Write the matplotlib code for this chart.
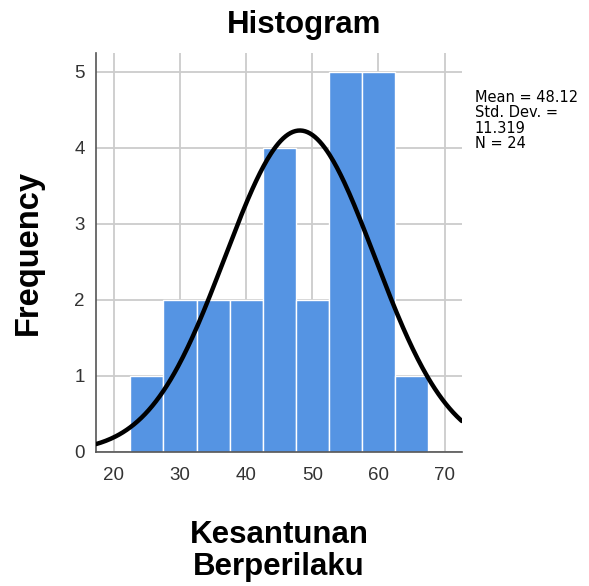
import numpy as np
import matplotlib
matplotlib.use("Agg")
from matplotlib import pyplot as plt

plt.rcParams['font.family'] = ['Liberation Sans', 'DejaVu Sans']

bin_edges = [22.5, 27.5, 32.5, 37.5, 42.5, 47.5, 52.5, 57.5, 62.5, 67.5]
freq = [1, 2, 2, 2, 4, 2, 5, 5, 1]
mean = 48.12
sd = 11.319
n = 24
xticks = [20, 30, 40, 50, 60, 70]
yticks = [0, 1, 2, 3, 4, 5]

fig = plt.figure(figsize=(5.89, 5.86), dpi=100)
ax = fig.add_axes([0.163, 0.2287, 0.621, 0.681])

width = bin_edges[1] - bin_edges[0]
ax.bar(bin_edges[:-1], freq, width=width, align='edge', color='#5594e3',
       edgecolor='white', linewidth=1, zorder=2)

xs = np.linspace(17.3, 72.6, 300)
ys = n * width * np.exp(-0.5 * ((xs - mean) / sd) ** 2) / (sd * np.sqrt(2 * np.pi))
ax.plot(xs, ys, color='black', linewidth=3.2, zorder=3, solid_capstyle='round')

ax.set_xlim(17.3, 72.6)
ax.set_ylim(0, 5.25)
ax.set_xticks(xticks)
ax.set_yticks(yticks)
ax.grid(True, color='#cccccc', linewidth=1.3, zorder=0)
ax.set_axisbelow(True)
for s in ['top', 'right']:
    ax.spines[s].set_visible(False)
for s in ['left', 'bottom']:
    ax.spines[s].set_color('#555555')
    ax.spines[s].set_linewidth(1.2)
ax.tick_params(length=0, labelsize=13.5, labelcolor='#333333')
ax.tick_params(axis='x', pad=11)
ax.tick_params(axis='y', pad=8)

fig.text(0.516, 0.958, 'Histogram', fontsize=22.5, fontweight='bold',
         ha='center', va='center')
ax.set_ylabel('Frequency', fontsize=23.5, fontweight='bold', labelpad=22)
ax.set_xlabel('Kesantunan\nBerperilaku', fontsize=22.5, fontweight='bold',
              labelpad=26, linespacing=1.05)

fig.text(0.806, 0.847, 'Mean = 48.12\nStd. Dev. =\n11.319\nN = 24',
         fontsize=10.5, va='top', ha='left', linespacing=1.05,
         family='DejaVu Sans')

fig.savefig('out.png', dpi=100)
